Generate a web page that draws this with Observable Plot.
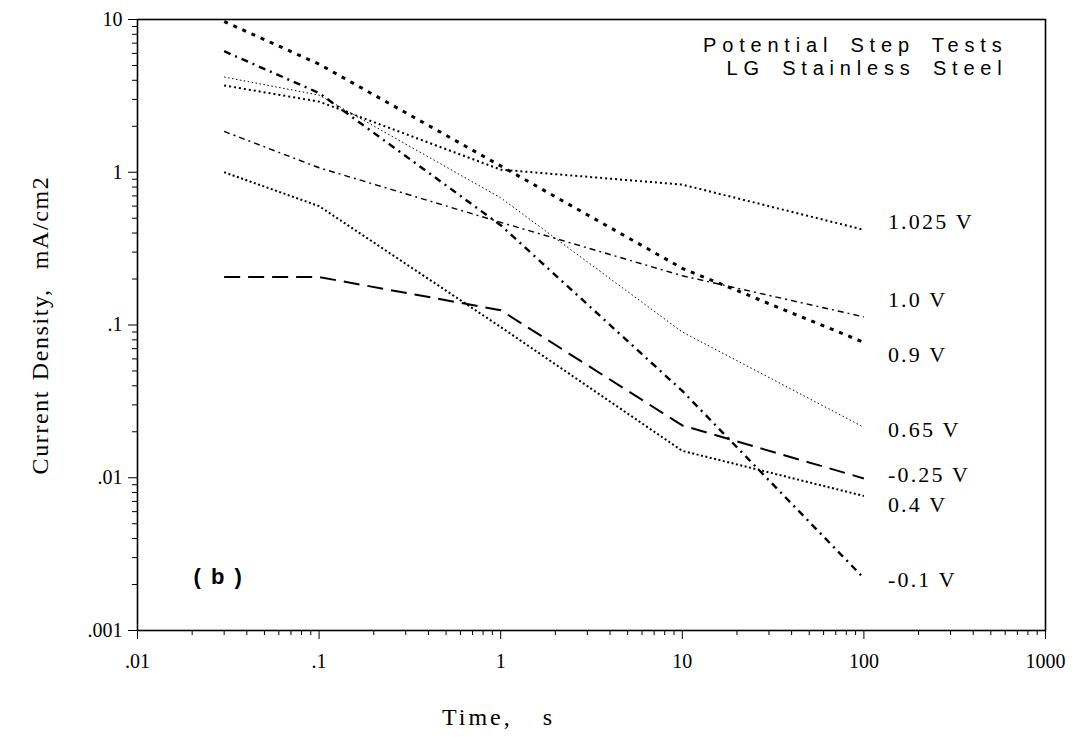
<!DOCTYPE html>
<html>
<head>
<meta charset="utf-8">
<script src="https://cdn.jsdelivr.net/npm/d3@7"></script>
<script src="https://cdn.jsdelivr.net/npm/@observablehq/plot@0.6"></script>
<style>
  html, body { margin: 0; padding: 0; background: #fff; }
  svg { display: block; }
</style>
</head>
<body>
<div id="chart"></div>
<script>
// ---- data ----
const times = [0.03, 0.1, 1, 10, 100];
const seriesNames = ["1.025 V", "1.0 V", "0.9 V", "0.65 V", "-0.25 V", "0.4 V", "-0.1 V"];
const v1025 = [3.7, 2.9, 1.04, 0.83, 0.42];
const v100 = [1.85, 1.07, 0.47, 0.21, 0.113];
const v090 = [9.7, 5.1, 1.1, 0.235, 0.077];
const v065 = [4.2, 3.2, 0.68, 0.09, 0.0214];
const vm025 = [0.206, 0.206, 0.125, 0.022, 0.0099];
const v040 = [1.0, 0.6, 0.097, 0.015, 0.0076];
const vm010 = [6.2, 3.3, 0.45, 0.037, 0.0022];
const seriesValues = [v1025, v100, v090, v065, vm025, v040, vm010];
// label anchor values (current density at which each label sits, right of the curves)
const labelValues = [0.47, 0.146, 0.064, 0.0205, 0.0105, 0.0066, 0.00215];
const xTicks = [0.01, 0.1, 1, 10, 100, 1000];
const yTicks = [0.001, 0.01, 0.1, 1, 10];
const titleText = "Potential Step Tests\nLG Stainless Steel";
const panelText = "( b )";
const xLabel = "Time,  s";
const yLabel = "Current Density,  mA/cm2";

// ---- styles (kept apart from the data) ----
const lineStyles = {
  "1.025 V": {strokeDasharray: "2,3", strokeWidth: 2},
  "1.0 V":   {strokeDasharray: "6,4,2,4", strokeWidth: 1.4},
  "0.9 V":   {strokeDasharray: "4,6", strokeWidth: 3},
  "0.65 V":  {strokeDasharray: "1.5,2.5", strokeWidth: 1},
  "-0.25 V": {strokeDasharray: "16,8", strokeWidth: 2},
  "0.4 V":   {strokeDasharray: "2,2.5", strokeWidth: 2},
  "-0.1 V":  {strokeDasharray: "7,5,2,5", strokeWidth: 2.4}
};

const rows = seriesNames.flatMap((name, i) =>
  times.map((t, j) => ({name, t, v: seriesValues[i][j]})));
const labels = seriesNames.map((name, i) => ({name, t: times[times.length - 1], v: labelValues[i]}));

const minorX = [];
for (let e = -2; e < 3; e++) for (let k = 2; k <= 9; k++) minorX.push(k * Math.pow(10, e));
const minorY = [];
for (let e = -3; e < 1; e++) for (let k = 2; k <= 9; k++) minorY.push(k * Math.pow(10, e));

const fmt = d => {
  const s = String(+d.toPrecision(6));
  return d < 1 ? s.replace(/^0/, "") : s;
};

const serif = "'Liberation Serif', 'Times New Roman', serif";
const sans = "'Liberation Sans', Arial, Helvetica, sans-serif";

const lineMarks = seriesNames.map(name =>
  Plot.line(rows.filter(r => r.name === name), {
    x: "t", y: "v", stroke: "black", strokeLinecap: "butt",
    ...lineStyles[name]
  }));

const plot = Plot.plot({
  width: 1076,
  height: 749,
  marginLeft: 137,
  marginRight: 31,
  marginTop: 19,
  marginBottom: 119,
  style: {fontFamily: serif, background: "white", color: "black"},
  x: {type: "log", domain: [0.01, 1000]},
  y: {type: "log", domain: [0.001, 10]},
  marks: [
    Plot.axisX({ticks: minorX, tickSize: 5, tickFormat: () => "", label: null}),
    Plot.axisX({ticks: xTicks, tickSize: 9, tickFormat: fmt, tickPadding: 14, fontSize: 20, label: null}),
    Plot.axisY({ticks: minorY, tickSize: 5, tickFormat: () => "", label: null}),
    Plot.axisY({ticks: yTicks, tickSize: 9, tickFormat: fmt, tickPadding: 6, fontSize: 20, label: null}),
    Plot.frame({stroke: "black", strokeWidth: 1.6}),
    ...lineMarks,
    Plot.text(labels, {x: "t", y: "v", text: "name", textAnchor: "start", dx: 24, fontSize: 22, fontFamily: serif}),
    Plot.text([titleText], {frameAnchor: "top-right", textAnchor: "end", lineAnchor: "top", dx: -38, dy: 16, lineHeight: 1.15, fontSize: 20, fontFamily: sans}),
    Plot.text([panelText], {frameAnchor: "bottom-left", textAnchor: "start", dx: 56, dy: -47, fontSize: 22, fontWeight: "bold", fontFamily: sans}),
    Plot.text([xLabel], {frameAnchor: "bottom", textAnchor: "middle", dx: -93, dy: 94, fontSize: 24, fontFamily: serif}),
    Plot.text([yLabel], {frameAnchor: "left", textAnchor: "middle", rotate: -90, dx: -97, dy: 0, fontSize: 24, fontFamily: serif})
  ]
});

document.getElementById("chart").appendChild(plot);

// letter spacing to mimic the wide typewriter-style spacing of the original
const spacing = new Map([
  ["Potential Step Tests", ["5.8px", "6px"]],
  ["LG Stainless Steel", ["5.8px", "6px"]],
  [xLabel, ["3px", "6px"]],
  [yLabel, ["1.6px", "2px"]],
  [panelText, ["1px", "2px"]]
]);
plot.querySelectorAll("text, tspan").forEach(el => {
  const s = spacing.get(el.textContent);
  if (s) { el.style.letterSpacing = s[0]; el.style.wordSpacing = s[1]; }
});
seriesNames.forEach(n => {
  plot.querySelectorAll("text").forEach(el => {
    if (el.textContent === n) el.style.letterSpacing = "2.2px";
  });
});
</script>
</body>
</html>
